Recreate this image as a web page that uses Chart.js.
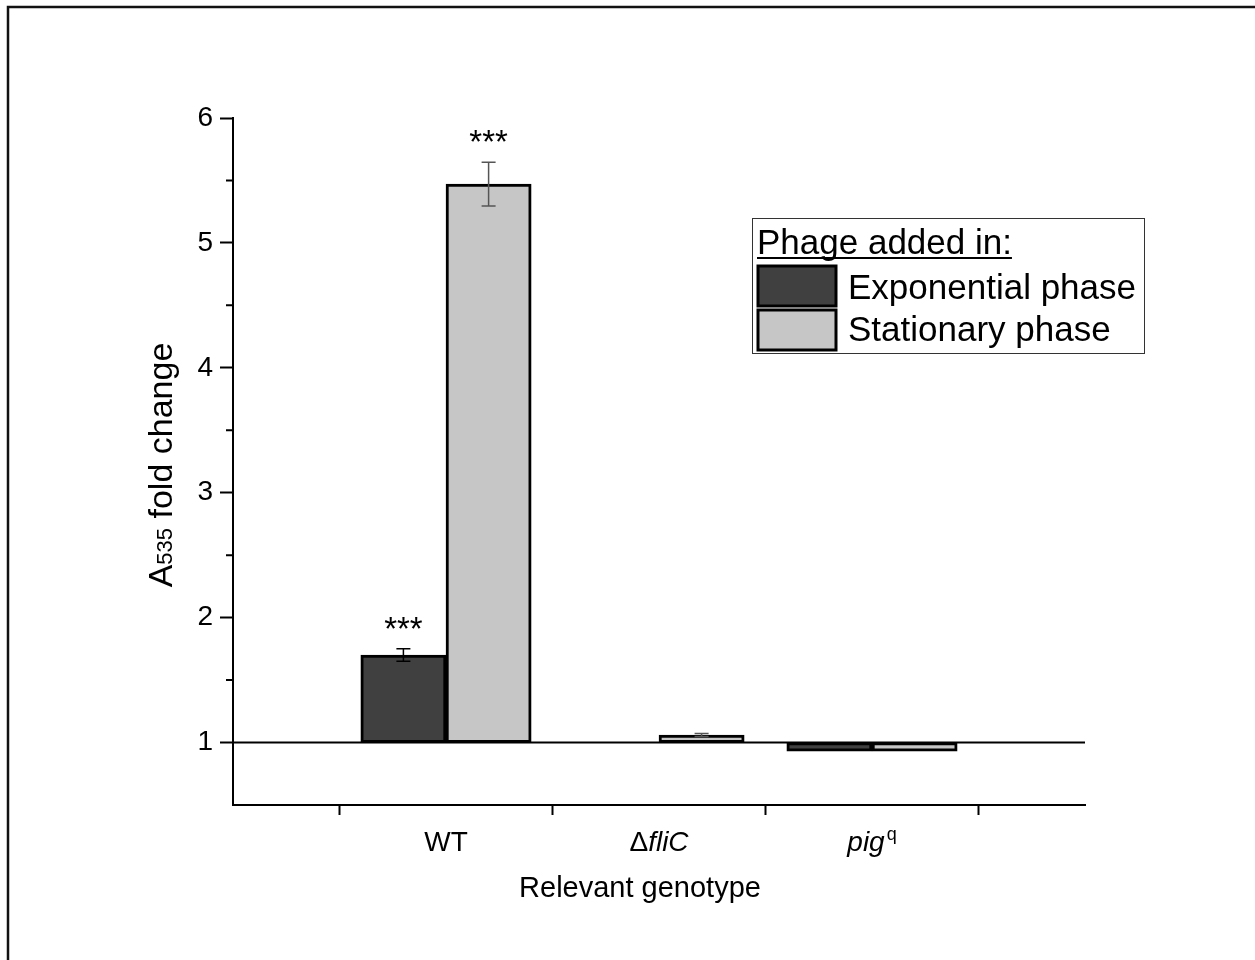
<!DOCTYPE html>
<html>
<head>
<meta charset="utf-8">
<script src="https://cdn.jsdelivr.net/npm/chart.js@4.4.1/dist/chart.umd.min.js"></script>
<style>
  html, body { margin: 0; padding: 0; background: #fff; }
</style>
</head>
<body>
<canvas id="foldChart" width="1255" height="960"></canvas>
<script>
// data
const genotypes = ['WT', 'ΔfliC', 'pigq'];
const exponential = [1.70, null, 0.93];
const exponentialErr = [0.05, 0, 0];
const stationary = [5.47, 1.06, 0.93];
const stationaryErr = [0.175, 0.012, 0];
const sigExp = ['***', '', ''];
const sigStat = ['***', '', ''];
const baseline = 1;
const yMin = 0.5, yMax = 6;

const FONT = "'Liberation Sans', Arial, sans-serif";

// how each genotype label is typeset (n = normal, i = italic, sup = superscript)
const labelParts = {
    'WT': [['WT', 'n']],
    'ΔfliC': [['Δ', 'n'], ['fliC', 'i']],
    'pigq': [['pig', 'i'], ['q', 'sup']]
};

const toBars = (vals) => vals.map((v, i) => ({ x: i + 1, y: v === null ? null : [baseline, v] }));
const isHalf = (v) => Math.abs(Math.abs(v % 1) - 0.5) < 1e-6;

const figurePlugin = {
    id: 'figure',
    beforeDraw(chart) {
        const c = chart.ctx;
        c.save();
        c.fillStyle = '#fff';
        c.fillRect(0, 0, chart.width, chart.height);
        // cropped frame of the original figure
        c.strokeStyle = '#111';
        c.lineWidth = 2.5;
        c.beginPath();
        c.moveTo(8, chart.height);
        c.lineTo(8, 7);
        c.lineTo(chart.width, 7);
        c.stroke();
        c.restore();
    },
    beforeDatasetsDraw(chart) {
        const c = chart.ctx, a = chart.chartArea;
        const y1 = chart.scales.y.getPixelForValue(baseline);
        c.save();
        c.strokeStyle = '#000';
        c.lineWidth = 2;
        c.beginPath();
        c.moveTo(a.left, y1);
        c.lineTo(a.right, y1);
        c.stroke();
        c.restore();
    },
    afterDatasetsDraw(chart) {
        const c = chart.ctx, ys = chart.scales.y;
        const sets = [
            { vals: exponential, errs: exponentialErr, sig: sigExp, color: '#000' },
            { vals: stationary, errs: stationaryErr, sig: sigStat, color: '#555' }
        ];
        c.save();
        sets.forEach((s, di) => {
            const meta = chart.getDatasetMeta(di);
            s.vals.forEach((v, i) => {
                if (v === null) return;
                const x = meta.data[i].x;
                const top = ys.getPixelForValue(v + s.errs[i]);
                const bot = ys.getPixelForValue(v - s.errs[i]);
                if (s.errs[i] > 0) {
                    c.strokeStyle = s.color;
                    c.lineWidth = 1.5;
                    c.beginPath();
                    c.moveTo(x, top); c.lineTo(x, bot);
                    c.moveTo(x - 7, top); c.lineTo(x + 7, top);
                    c.moveTo(x - 7, bot); c.lineTo(x + 7, bot);
                    c.stroke();
                }
                if (s.sig[i]) {
                    c.fillStyle = '#000';
                    c.font = '33px ' + FONT;
                    c.textAlign = 'center';
                    c.textBaseline = 'alphabetic';
                    c.fillText(s.sig[i], x, top - 9);
                }
            });
        });
        c.restore();
    },
    afterDraw(chart) {
        const c = chart.ctx, xs = chart.scales.x, ys = chart.scales.y, a = chart.chartArea;
        c.save();
        c.fillStyle = '#000';
        c.strokeStyle = '#000';

        // minor y ticks
        c.lineWidth = 2;
        c.beginPath();
        for (let v = 1.5; v < yMax; v += 1) {
            const py = ys.getPixelForValue(v);
            c.moveTo(a.left - 7, py);
            c.lineTo(a.left, py);
        }
        c.stroke();

        // genotype labels
        c.textBaseline = 'alphabetic';
        genotypes.forEach((g, i) => {
            const parts = labelParts[g];
            const fontOf = (st) => st === 'i' ? 'italic 28px ' + FONT : (st === 'sup' ? '18px ' + FONT : '28px ' + FONT);
            let w = 0;
            parts.forEach(([t, st]) => { c.font = fontOf(st); w += c.measureText(t).width + (st === 'sup' ? 2 : 0); });
            let x = xs.getPixelForValue(i + 1) - w / 2;
            c.textAlign = 'left';
            parts.forEach(([t, st]) => {
                c.font = fontOf(st);
                if (st === 'sup') x += 2;
                c.fillText(t, x, st === 'sup' ? 840 : 851);
                x += c.measureText(t).width;
            });
        });

        // x title
        c.font = '29px ' + FONT;
        c.textAlign = 'center';
        c.fillText('Relevant genotype', (a.left + a.right) / 2 - 19, 897);

        // y title with small 535
        c.translate(172, 465);
        c.rotate(-Math.PI / 2);
        const segs = [['A', '34px '], ['535', '22px '], [' fold change', '34px ']];
        let tw = 0;
        segs.forEach(([t, f]) => { c.font = f + FONT; tw += c.measureText(t).width; });
        let tx = -tw / 2;
        c.textAlign = 'left';
        segs.forEach(([t, f]) => { c.font = f + FONT; c.fillText(t, tx, 0); tx += c.measureText(t).width; });
        c.setTransform(1, 0, 0, 1, 0, 0);

        // legend box
        c.lineWidth = 1;
        c.strokeStyle = '#333';
        c.strokeRect(752.5, 218.5, 392, 135);
        c.font = '35px ' + FONT;
        c.textAlign = 'left';
        c.fillText('Phage added in:', 757, 254);
        const uw = c.measureText('Phage added in:').width;
        c.strokeStyle = '#000';
        c.lineWidth = 2;
        c.beginPath();
        c.moveTo(757, 258); c.lineTo(757 + uw, 258);
        c.stroke();
        const rows = [[266, 299], [310, 341]];
        chart.data.datasets.forEach((ds, i) => {
            c.fillStyle = ds.backgroundColor;
            c.fillRect(758, rows[i][0], 78, 40);
            c.lineWidth = 3;
            c.strokeStyle = '#000';
            c.strokeRect(758, rows[i][0], 78, 40);
            c.fillStyle = '#000';
            c.fillText(ds.label, 848, rows[i][1]);
        });
        c.restore();
    }
};

new Chart(document.getElementById('foldChart').getContext('2d'), {
    type: 'bar',
    data: {
        datasets: [{
            label: 'Exponential phase',
            data: toBars(exponential),
            backgroundColor: '#404040',
            borderColor: '#000',
            borderWidth: 3,
            borderSkipped: false
        }, {
            label: 'Stationary phase',
            data: toBars(stationary),
            backgroundColor: '#c6c6c6',
            borderColor: '#000',
            borderWidth: 3,
            borderSkipped: false
        }]
    },
    options: {
        responsive: false,
        animation: false,
        barThickness: 'flex',
        categoryPercentage: 0.8,
        barPercentage: 1.0,
        layout: { padding: { left: 0, top: 118, right: 170, bottom: 0 } },
        plugins: { legend: { display: false }, tooltip: { enabled: false } },
        scales: {
            x: {
                type: 'linear',
                min: 0,
                max: 4,
                offset: false,
                afterFit: (s) => { s.height = 155; },
                ticks: { stepSize: 0.5, autoSkip: false, callback: () => '' },
                grid: {
                    offset: false,
                    drawOnChartArea: false,
                    tickLength: 10,
                    tickWidth: 2,
                    tickColor: (ctx) => (ctx.tick && isHalf(ctx.tick.value)) ? '#000' : 'rgba(0,0,0,0)'
                },
                border: { display: true, color: '#000', width: 2 }
            },
            y: {
                min: yMin,
                max: yMax,
                afterFit: (s) => { s.width = 233; },
                ticks: {
                    stepSize: 0.5,
                    padding: 7,
                    color: '#000',
                    font: { family: FONT, size: 28 },
                    callback: (v) => (v % 1 === 0 && v >= 1) ? String(v) : ''
                },
                grid: {
                    drawOnChartArea: false,
                    tickLength: 13,
                    tickWidth: 2,
                    tickColor: (ctx) => (ctx.tick && ctx.tick.value % 1 === 0 && ctx.tick.value >= 1) ? '#000' : 'rgba(0,0,0,0)'
                },
                border: { display: true, color: '#000', width: 2 }
            }
        }
    },
    plugins: [figurePlugin]
});
</script>
</body>
</html>
